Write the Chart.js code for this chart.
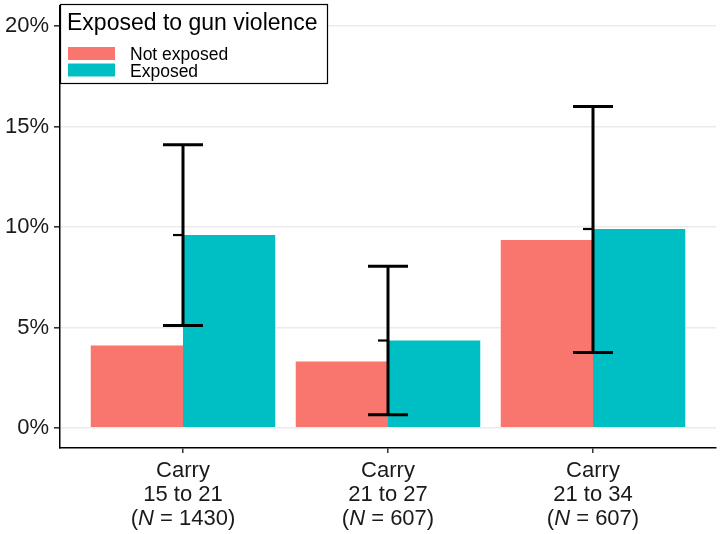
<!DOCTYPE html>
<html>
<head>
<meta charset="utf-8">
<script src="https://cdn.jsdelivr.net/npm/chart.js@4"></script>
<style>
html,body{margin:0;padding:0;background:#fff;}
canvas{display:block;}
</style>
</head>
<body>
<canvas id="c" width="720" height="534"></canvas>
<script>
// ---- data ----
const categories = ["Carry|15 to 21|1430", "Carry|21 to 27|607", "Carry|21 to 34|607"];
const catLine1 = ["Carry", "Carry", "Carry"];
const catLine2 = ["15 to 21", "21 to 27", "21 to 34"];
const catN = ["1430", "607", "607"];
const seriesNames = ["Not exposed", "Exposed"];
const notExposed = [4.1, 3.3, 9.35];
const exposed = [9.6, 4.35, 9.9];
const errLower = [5.1, 0.65, 3.75];
const errUpper = [14.1, 8.05, 16.0];
const yTicks = [0, 5, 10, 15, 20];

const RED = '#F8766D', TEAL = '#00BFC4';
const FONT = '"Liberation Sans", Arial, Helvetica, sans-serif';

const errorBarPlugin = {
  id: 'errorBars',
  afterDatasetsDraw(chart) {
    const ctx = chart.ctx, xs = chart.scales.x, ys = chart.scales.y;
    ctx.save();
    ctx.strokeStyle = '#000';
    ctx.lineCap = 'butt';
    categories.forEach((c, i) => {
      const x = xs.getPixelForValue(i + 1);
      const yl = ys.getPixelForValue(errLower[i]);
      const yu = ys.getPixelForValue(errUpper[i]);
      const ym = ys.getPixelForValue(exposed[i]);
      ctx.lineWidth = 3;
      ctx.beginPath();
      ctx.moveTo(x, yl); ctx.lineTo(x, yu);
      ctx.moveTo(x - 20, yu); ctx.lineTo(x + 20, yu);
      ctx.moveTo(x - 20, yl); ctx.lineTo(x + 20, yl);
      ctx.stroke();
      ctx.lineWidth = 2.2;
      ctx.beginPath();
      ctx.moveTo(x - 10, ym); ctx.lineTo(x, ym);
      ctx.stroke();
    });
    ctx.restore();
  },
  afterDraw(chart) {
    const ctx = chart.ctx, xs = chart.scales.x;
    ctx.save();
    // x labels
    ctx.fillStyle = '#1a1a1a';
    ctx.textBaseline = 'alphabetic';
    const fs = 22;
    categories.forEach((c, i) => {
      const x = xs.getPixelForValue(i + 1);
      ctx.font = fs + 'px ' + FONT;
      ctx.textAlign = 'center';
      ctx.fillText(catLine1[i], x, 477);
      ctx.fillText(catLine2[i], x, 501);
      // third line with italic N
      const p1 = '(', p2 = 'N', p3 = ' = ' + catN[i] + ')';
      ctx.font = fs + 'px ' + FONT;
      const w1 = ctx.measureText(p1).width, w3 = ctx.measureText(p3).width;
      ctx.font = 'italic ' + fs + 'px ' + FONT;
      const w2 = ctx.measureText(p2).width;
      let sx = x - (w1 + w2 + w3) / 2;
      ctx.textAlign = 'left';
      ctx.font = fs + 'px ' + FONT;
      ctx.fillText(p1, sx, 525);
      ctx.font = 'italic ' + fs + 'px ' + FONT;
      ctx.fillText(p2, sx + w1, 525);
      ctx.font = fs + 'px ' + FONT;
      ctx.fillText(p3, sx + w1 + w2, 525);
    });
    // legend
    ctx.fillStyle = '#fff';
    ctx.fillRect(60, 4, 268, 80);
    ctx.strokeStyle = '#000';
    ctx.lineWidth = 1.2;
    ctx.strokeRect(60.5, 4.5, 267, 79);
    ctx.fillStyle = '#000';
    ctx.textAlign = 'left';
    ctx.font = '23px ' + FONT;
    ctx.fillText('Exposed to gun violence', 67, 30);
    const cols = [RED, TEAL];
    ctx.font = '17.5px ' + FONT;
    seriesNames.forEach((n, k) => {
      ctx.fillStyle = cols[k];
      ctx.fillRect(68, 47 + k * 16.5, 47, 13);
      ctx.fillStyle = '#000';
      ctx.fillText(n, 130, 60 + k * 16.5);
    });
    ctx.restore();
  }
};

new Chart(document.getElementById('c'), {
  type: 'bar',
  data: {
    datasets: [
      { label: seriesNames[0], data: notExposed.map((v, i) => ({ x: i + 1, y: v })), backgroundColor: RED, borderWidth: 0, categoryPercentage: 0.9, barPercentage: 1.0 },
      { label: seriesNames[1], data: exposed.map((v, i) => ({ x: i + 1, y: v })), backgroundColor: TEAL, borderWidth: 0, categoryPercentage: 0.9, barPercentage: 1.0 }
    ]
  },
  options: {
    responsive: false,
    animation: false,
    layout: { padding: { top: 6, right: 4, left: 0, bottom: 0 } },
    plugins: { legend: { display: false }, tooltip: { enabled: false } },
    scales: {
      x: {
        type: 'linear',
        min: 0.4, max: 3.6,
        offset: false,
        afterBuildTicks: s => { s.ticks = [1, 2, 3].map(v => ({ value: v })); },
        afterFit: s => { s.height = 86; s.paddingLeft = 0; s.paddingRight = 0; },
        ticks: { callback: () => '', font: { size: 10 } },
        grid: { display: true, offset: false, drawOnChartArea: false, drawTicks: true, tickLength: 5, tickColor: '#333', lineWidth: 1.5 },
        border: { display: true, color: '#000', width: 1.5 }
      },
      y: {
        min: -1, max: 21,
        afterBuildTicks: s => { s.ticks = yTicks.map(v => ({ value: v })); },
        afterFit: s => { s.width = 60; s.paddingTop = 0; s.paddingBottom = 0; },
        ticks: { callback: v => v + '%', color: '#1a1a1a', font: { family: FONT, size: 22 }, padding: 5 },
        grid: { color: '#ebebeb', lineWidth: 1.6, tickColor: '#333', tickLength: 6 },
        border: { display: true, color: '#000', width: 1.5 }
      }
    }
  },
  plugins: [errorBarPlugin]
});
</script>
</body>
</html>
